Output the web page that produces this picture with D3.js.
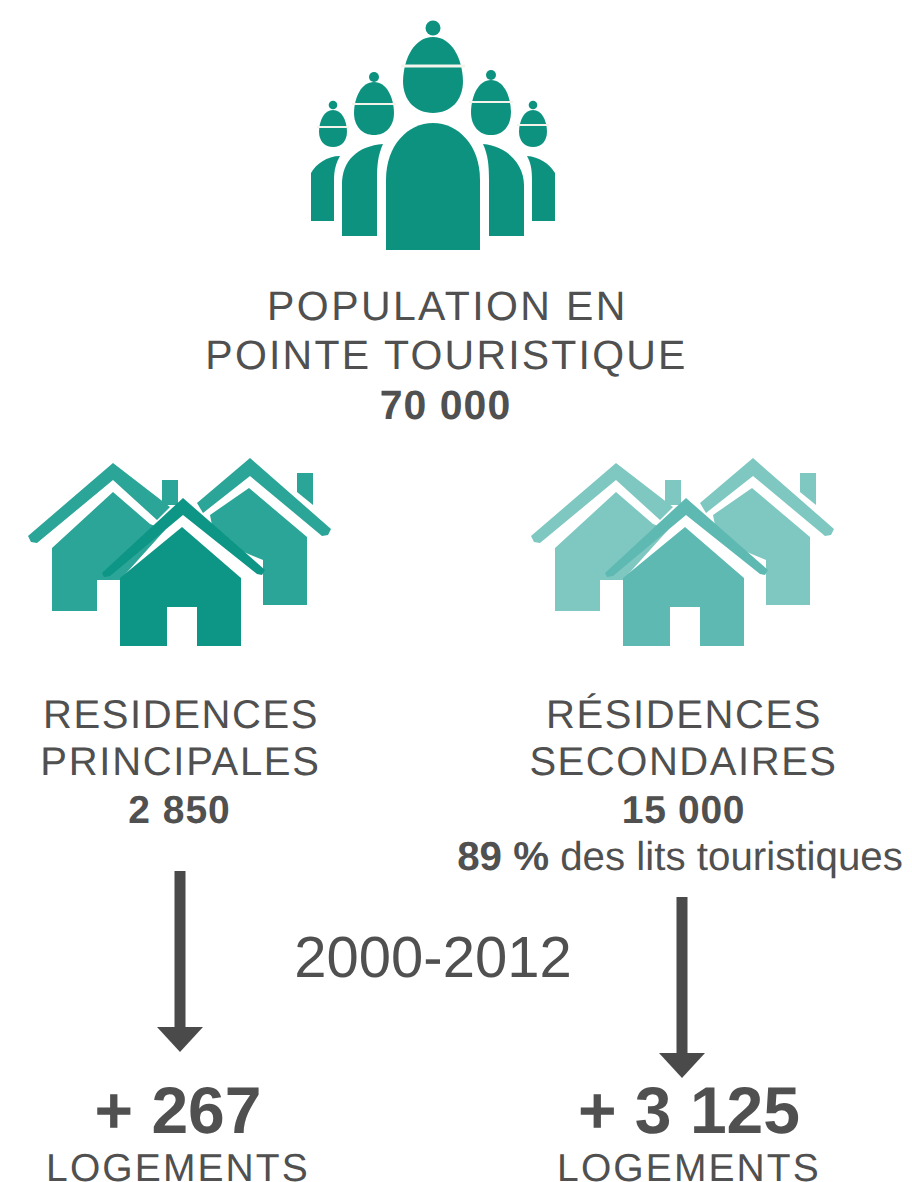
<!DOCTYPE html>
<html>
<head>
<meta charset="utf-8">
<script src="https://cdn.jsdelivr.net/npm/d3@7"></script>
<style>
  html, body { margin: 0; padding: 0; background: #fff; }
  text { font-family: "Liberation Sans", Arial, sans-serif; fill: #505050; text-rendering: geometricPrecision; }
</style>
</head>
<body>
<svg class="chart"></svg>
<script>
const width = 912, height = 1182;

// text of the figure
const topTitle = ["POPULATION EN", "POINTE TOURISTIQUE"];
const topValue = "70 000";
const categories = [["RESIDENCES", "PRINCIPALES"], ["RÉSIDENCES", "SECONDAIRES"]];
const stockValues = ["2 850", "15 000"];
const lits = ["89 %", " des lits touristiques"];
const period = "2000-2012";
const changeValues = ["+ 267", "+ 3 125"];
const changeUnit = "LOGEMENTS";

const teal = "#0b9280";
const darkHouse = ["#2ba597", "#0d9585"];
const lightHouse = ["#7fc8c1", "#5fb9b3"];
const grey = "#4a4a4a";

const svg = d3.select(".chart")
  .attr("width", width)
  .attr("height", height)
  .style("display", "block");

const defs = svg.append("defs");
defs.append("filter").attr("id", "soft")
  .append("feGaussianBlur").attr("stdDeviation", 0.6);

const line = d3.line();

const label = (x, y, str, size, bold, spacing) => svg.append("text")
  .attr("x", x)
  .attr("y", y)
  .attr("text-anchor", "middle")
  .attr("font-size", size)
  .attr("font-weight", bold ? "bold" : "normal")
  .attr("letter-spacing", spacing || 0)
  .text(str);

// one little person head : knob, egg shape, thin white line through it
const head = (g, cx, knobY, knobR, top, split, bottom, r) => {
  const mid = top + (bottom - top) * 0.58;
  const h = bottom - top;
  g.append("circle").attr("cx", cx).attr("cy", knobY).attr("r", knobR);
  g.append("path").attr("d", `M${cx},${top}
    C${cx + r * 0.62},${top} ${cx + r * 0.98},${mid - h * 0.3} ${cx + r},${mid}
    C${cx + r},${mid + (bottom - mid) * 0.62} ${cx + r * 0.58},${bottom} ${cx},${bottom}
    C${cx - r * 0.58},${bottom} ${cx - r},${mid + (bottom - mid) * 0.62} ${cx - r},${mid}
    C${cx - r * 0.98},${mid - h * 0.3} ${cx - r * 0.62},${top} ${cx},${top}Z`);
  g.append("path")
    .attr("d", line([[cx - r - 2, split], [cx + r + 2, split]]))
    .attr("stroke", "#f4f4ec")
    .attr("stroke-width", top < 50 ? 3 : 2);
};

const people = svg.append("g").attr("fill", teal).attr("filter", "url(#soft)");
head(people, 433, 28, 7.5, 37, 66, 113, 30);
head(people, 374, 77, 5, 82, 104, 135, 20);
head(people, 491, 75, 5, 80, 102, 135, 20);
head(people, 333, 105, 4.3, 110, 127, 147, 14);
head(people, 533, 105, 4.3, 110, 125, 147, 14);

// bodies
people.append("path").attr("d", "M386,250 L386,180 C386,145 408,123 433,123 C458,123 480,145 480,180 L480,250Z");
people.append("path").attr("d", "M342,236 L342,185 C342,160 358,146 383,144 C378,155 377,165 377,180 L377,236Z");
people.append("path").attr("d", "M524,236 L524,185 C524,165 508,146 483,144 C488,155 489,165 489,180 L489,236Z");
people.append("path").attr("d", "M311,221 L311,173 C316,164 327,156 340,156 C336,163 334,170 334,180 L334,221Z");
people.append("path").attr("d", "M555,221 L555,173 C549,163 539,157 527,156 C531,163 532,170 532,180 L532,221Z");

// three houses, the offset is the only thing that changes between both icons
const houses = (dx, colors) => {
  const g = svg.append("g")
    .attr("transform", `translate(${dx},0)`)
    .attr("filter", "url(#soft)");
  const back = g.append("g").attr("fill", colors[0]);
  back.append("path").attr("d", "M52,548 L113,492 L150,524 L165,530 L120,580 L97,580 L97,611 L52,611Z");
  back.append("path").attr("d", "M210,515 L249,488 L307,537 L307,605 L263,605 L263,560 L215,540Z");
  back.append("path").attr("d", "M28,536 L113,463 L170,507 L157,520 L113,480 L37,543 L31,542Z");
  back.append("path").attr("d", "M197,503 L250,458 L331,529 L328,535 L322,536 L250,476 L203,513Z");
  back.append("rect").attr("x", 162).attr("y", 480).attr("width", 16).attr("height", 25);
  back.append("path").attr("d", "M297,473 L313,473 L313,505 L297,492Z");
  const front = g.append("g").attr("fill", colors[1]);
  front.append("path").attr("d", "M102,573 L183,498 L265,570 L262,575 L257,574 L183,515 L110,576 L104,577Z");
  front.append("path").attr("d", "M120,578 L182,527 L241,578 L241,646 L197,646 L197,607 L167,607 L167,646 L120,646Z");
  return g;
};
houses(0, darkHouse);
houses(503, lightHouse);

// arrows
const arrow = (x, y0, y1) => {
  svg.append("path")
    .attr("d", line([[x, y0], [x, y1 - 20]]))
    .attr("stroke", grey)
    .attr("stroke-width", 11)
    .attr("fill", "none");
  svg.append("path")
    .attr("d", line([[x - 23, y1 - 25], [x + 23, y1 - 25], [x, y1]]) + "Z")
    .attr("fill", grey);
};
arrow(180, 871, 1052);
arrow(682, 897, 1078);

// texts
label(447.5, 320, topTitle[0], 41, false, 2.4);
label(446.5, 369, topTitle[1], 41, false, 2.2);
label(445.5, 419, topValue, 41, true, 1);

label(181, 728, categories[0][0], 40, false, 1.6);
label(180.5, 775, categories[0][1], 40, false, 1.7);
label(179.5, 823, stockValues[0], 39, true, 1);

label(684, 728, categories[1][0], 40, false, 1.6);
label(683.5, 775, categories[1][1], 40, false, 1.55);
label(683.5, 823, stockValues[1], 39, true, 0.7);

const litsText = label(680, 870, lits[0], 40.3, true);
litsText.append("tspan").attr("font-weight", "normal").text(lits[1]);

label(433, 977, period, 58, false);

label(178, 1133, changeValues[0], 66, true);
label(689, 1133, changeValues[1], 66, true);
label(178, 1181, changeUnit, 39, false, 2.1);
label(689, 1181, changeUnit, 39, false, 2.1);
</script>
</body>
</html>
